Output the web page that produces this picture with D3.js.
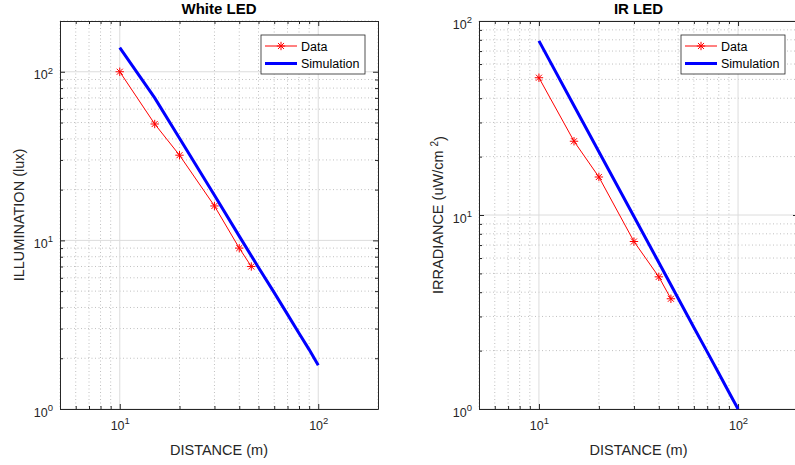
<!DOCTYPE html>
<html>
<head>
<meta charset="utf-8">
<script src="https://cdn.jsdelivr.net/npm/d3@7"></script>
<style>
body { margin: 0; background: #fff; }
svg { font-family: "Liberation Sans", Arial, sans-serif; }
</style>
</head>
<body>
<div id="chart"></div>
<script>
// measured values
const distance = [10, 15, 20, 30, 40, 46]
const whiteData = [100, 49, 32, 16, 9, 7]
const irData = [51, 24, 15.7, 7.3, 4.8, 3.7]

const simDistance = [10, 15, 20, 30, 40, 50, 60, 70, 80, 90, 100]
const whiteSim = [139, 70, 40.3, 18.5, 10.6, 6.9, 4.9, 3.64, 2.81, 2.25, 1.82]
const irSim = [79, 36.6, 21.2, 9.82, 5.69, 3.72, 2.63, 1.97, 1.53, 1.22, 1.0]

const xMajor = [10, 100]
const whiteYMajor = [1, 10, 100]
const irYMajor = [1, 10, 100]
const legendLabels = ['Data', 'Simulation']

const width = 795,
height = 465

const axisColor = '#262626'

let svg = d3.select('#chart')
.append('svg')
.attr('width', width)
.attr('height', height)

// 10^n label
let powLabel = (sel) => {
  sel.each(function (d) {
    let t = d3.select(this)
    t.text('')
    t.append('tspan').style('font-size', '12.5px').text('10')
    t.append('tspan')
    .attr('dy', '-0.6em')
    .style('font-size', '9.5px')
    .text(Math.round(Math.log10(d)))
  })
}

let star = (r) => {
  let q = r * 0.72
  return `M${-r},0L${r},0M0,${-r}L0,${r}M${-q},${-q}L${q},${q}M${-q},${q}L${q},${-q}`
}

let panel = (cfg) => {
  const { left, right, top, bottom } = cfg
  const g = svg.append('g')

  const x = d3.scaleLog().domain([5, 200]).range([left, right])
  const y = d3.scaleLog().domain(cfg.yDomain).range([bottom, top])

  const xMinor = x.ticks().filter(v => !xMajor.includes(v))
  const yMinor = y.ticks().filter(v => !cfg.yMajor.includes(v))

  // minor grid
  g.append('g')
  .selectAll('line.mx')
  .data(xMinor)
  .enter()
  .append('line')
  .attr('x1', d => x(d)).attr('x2', d => x(d))
  .attr('y1', top).attr('y2', bottom)
  .attr('stroke', '#b0b0b0')
  .attr('stroke-width', 0.8)
  .attr('stroke-dasharray', '1,2.5')

  g.append('g')
  .selectAll('line.my')
  .data(yMinor)
  .enter()
  .append('line')
  .attr('y1', d => y(d)).attr('y2', d => y(d))
  .attr('x1', left).attr('x2', right)
  .attr('stroke', '#b0b0b0')
  .attr('stroke-width', 0.8)
  .attr('stroke-dasharray', '1,2.5')

  // major grid
  g.append('g')
  .selectAll('line')
  .data(xMajor)
  .enter()
  .append('line')
  .attr('x1', d => x(d)).attr('x2', d => x(d))
  .attr('y1', top).attr('y2', bottom)
  .attr('stroke', '#dcdcdc')
  .attr('stroke-width', 1)

  g.append('g')
  .selectAll('line')
  .data(cfg.yMajor)
  .enter()
  .append('line')
  .attr('y1', d => y(d)).attr('y2', d => y(d))
  .attr('x1', left).attr('x2', right)
  .attr('stroke', '#dcdcdc')
  .attr('stroke-width', 1)

  // axes (ticks inside, box on)
  let styleAxis = (a) => {
    a.selectAll('path').attr('stroke', axisColor)
    a.selectAll('line').attr('stroke', axisColor)
    a.selectAll('text').attr('fill', axisColor)
  }

  const xAxis = g.append('g')
  .attr('transform', `translate(0,${bottom})`)
  .call(d3.axisBottom(x).tickValues(xMajor).tickSizeInner(-5).tickSizeOuter(0).tickPadding(14))
  .call(styleAxis)
  xAxis.selectAll('.tick text').call(powLabel)

  g.append('g')
  .attr('transform', `translate(0,${bottom})`)
  .call(d3.axisBottom(x).tickValues(xMinor).tickSize(-3).tickFormat(''))
  .call(a => a.select('.domain').remove())
  .call(styleAxis)

  g.append('g')
  .attr('transform', `translate(0,${top})`)
  .call(d3.axisTop(x).tickValues(xMajor).tickSizeInner(-5).tickSizeOuter(0).tickFormat(''))
  .call(styleAxis)

  g.append('g')
  .attr('transform', `translate(0,${top})`)
  .call(d3.axisTop(x).tickValues(xMinor).tickSize(-3).tickFormat(''))
  .call(a => a.select('.domain').remove())
  .call(styleAxis)

  const yAxis = g.append('g')
  .attr('transform', `translate(${left},0)`)
  .call(d3.axisLeft(y).tickValues(cfg.yMajor).tickSizeInner(-5).tickSizeOuter(0).tickPadding(7))
  .call(styleAxis)
  yAxis.selectAll('.tick text').attr('dy', '0.7em').call(powLabel)

  g.append('g')
  .attr('transform', `translate(${left},0)`)
  .call(d3.axisLeft(y).tickValues(yMinor).tickSize(-3).tickFormat(''))
  .call(a => a.select('.domain').remove())
  .call(styleAxis)

  g.append('g')
  .attr('transform', `translate(${right},0)`)
  .call(d3.axisRight(y).tickValues(cfg.yMajor).tickSizeInner(-5).tickSizeOuter(0).tickFormat(''))
  .call(styleAxis)

  g.append('g')
  .attr('transform', `translate(${right},0)`)
  .call(d3.axisRight(y).tickValues(yMinor).tickSize(-3).tickFormat(''))
  .call(a => a.select('.domain').remove())
  .call(styleAxis)

  // series
  const line = d3.line().x(d => x(d[0])).y(d => y(d[1]))

  g.append('path')
  .datum(d3.zip(simDistance, cfg.sim))
  .attr('d', line)
  .attr('fill', 'none')
  .attr('stroke', '#0000ff')
  .attr('stroke-width', 3)

  const pts = d3.zip(distance, cfg.data)
  g.append('path')
  .datum(pts)
  .attr('d', line)
  .attr('fill', 'none')
  .attr('stroke', '#ff0000')
  .attr('stroke-width', 1)

  g.selectAll('path.star')
  .data(pts)
  .enter()
  .append('path')
  .attr('class', 'star')
  .attr('transform', d => `translate(${x(d[0])},${y(d[1])})`)
  .attr('d', star(4.2))
  .attr('stroke', '#ff0000')
  .attr('stroke-width', 1)

  // title and labels
  g.append('text')
  .attr('x', (left + right) / 2)
  .attr('y', 14)
  .attr('text-anchor', 'middle')
  .attr('font-weight', 'bold')
  .attr('font-size', '15px')
  .attr('fill', '#000')
  .text(cfg.title)

  g.append('text')
  .attr('x', (left + right) / 2)
  .attr('y', 455)
  .attr('text-anchor', 'middle')
  .attr('font-size', '14.5px')
  .attr('fill', axisColor)
  .text('DISTANCE (m)')

  const yl = g.append('text')
  .attr('transform', `translate(${cfg.yLabelX},${(top + bottom) / 2}) rotate(-90)`)
  .attr('text-anchor', 'middle')
  .attr('font-size', '14.5px')
  .attr('fill', axisColor)
  cfg.yLabel.forEach(part => {
    yl.append('tspan')
    .attr('dy', part.dy || 0)
    .attr('font-size', part.size || null)
    .text(part.text)
  })

  // legend
  const lg = g.append('g').attr('transform', `translate(${cfg.legendX},35)`)
  lg.append('rect')
  .attr('width', 104).attr('height', 39)
  .attr('fill', '#fff')
  .attr('stroke', axisColor)
  .attr('stroke-width', 0.8)

  legendLabels.forEach((label, i) => {
    const ly = 11 + i * 17.5
    lg.append('line')
    .attr('x1', 4).attr('x2', 36)
    .attr('y1', ly).attr('y2', ly)
    .attr('stroke', i === 0 ? '#ff0000' : '#0000ff')
    .attr('stroke-width', i === 0 ? 1 : 3)
    if (i === 0) {
      lg.append('path')
      .attr('transform', `translate(20,${ly})`)
      .attr('d', star(4.2))
      .attr('stroke', '#ff0000')
    }
    lg.append('text')
    .attr('x', 40)
    .attr('y', ly + 4.5)
    .attr('font-size', '12.5px')
    .attr('fill', '#000')
    .text(label)
  })
}

panel({
  left: 60, right: 378, top: 21, bottom: 409,
  yDomain: [1, 200], yMajor: whiteYMajor,
  data: whiteData, sim: whiteSim,
  title: 'White LED',
  yLabelX: 24,
  yLabel: [{ text: 'ILLUMINATION (lux)' }],
  legendX: 261
})

panel({
  left: 479, right: 798, top: 21, bottom: 409,
  yDomain: [1, 100], yMajor: irYMajor,
  data: irData, sim: irSim,
  title: 'IR LED',
  yLabelX: 443,
  yLabel: [{ text: 'IRRADIANCE (uW/cm ' }, { text: '2', dy: '-0.5em', size: '10px' }, { text: ')', dy: '0.5em' }],
  legendX: 681
})
</script>
</body>
</html>
